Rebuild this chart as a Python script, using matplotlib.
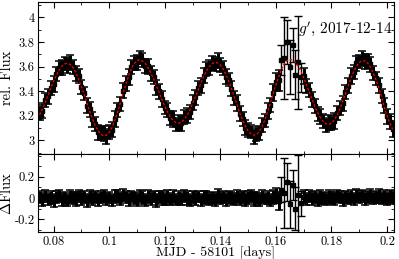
import matplotlib
matplotlib.use("Agg")
import matplotlib.pyplot as plt
import numpy as np
from matplotlib.ticker import MultipleLocator, FixedLocator, FuncFormatter

# times (MJD - 58101), one per 0.001 d
t_start = 0.075
model = [3.209, 3.256, 3.309, 3.367, 3.425, 3.480, 3.530, 3.572, 3.603, 3.622,
         3.627, 3.617, 3.592, 3.553, 3.501, 3.440, 3.374, 3.304, 3.237, 3.175,
         3.121, 3.079, 3.051, 3.038, 3.042, 3.065, 3.105, 3.161, 3.229, 3.303,
         3.381, 3.456, 3.525, 3.582, 3.624, 3.649, 3.655, 3.646, 3.625, 3.592,
         3.550, 3.501, 3.446, 3.389, 3.332, 3.279, 3.232, 3.192, 3.163, 3.145,
         3.140, 3.148, 3.170, 3.202, 3.246, 3.297, 3.353, 3.411, 3.467, 3.519,
         3.565, 3.600, 3.624, 3.634, 3.631, 3.614, 3.582, 3.537, 3.483, 3.422,
         3.356, 3.289, 3.225, 3.166, 3.117, 3.079, 3.054, 3.043, 3.049, 3.072,
         3.112, 3.166, 3.231, 3.303, 3.378, 3.451, 3.518, 3.576, 3.621, 3.649,
         3.660, 3.654, 3.635, 3.604, 3.562, 3.512, 3.454, 3.395, 3.336, 3.278,
         3.228, 3.186, 3.154, 3.136, 3.130, 3.140, 3.165, 3.205, 3.256, 3.316,
         3.380, 3.445, 3.507, 3.561, 3.604, 3.634, 3.649, 3.647, 3.629, 3.597,
         3.550, 3.494, 3.428, 3.359, 3.270, 3.200, 3.140, 3.090]

resid = [0.012, -0.015, 0.020, -0.008, 0.005, -0.022, 0.010, 0.018, -0.012, 0.003,
         -0.018, 0.014, 0.002, -0.010, 0.022, -0.005, 0.008, -0.020, 0.015, -0.003,
         0.010, -0.014, 0.006, 0.019, -0.009, 0.004, -0.017, 0.013, 0.021, -0.006,
         0.025, 0.008, -0.011, 0.016, 0.003, -0.013, 0.020, 0.007, -0.016, 0.011,
         -0.004, 0.015, -0.019, 0.009, 0.002, -0.012, 0.017, -0.007, 0.012, -0.015,
         0.006, -0.010, 0.018, 0.001, -0.016, 0.011, -0.003, 0.014, -0.020, 0.007,
         0.013, -0.008, 0.004, -0.014, 0.019, -0.002, 0.009, -0.018, 0.012, 0.000,
         -0.011, 0.016, -0.006, 0.010, -0.015, 0.005, 0.018, -0.009, 0.003, -0.013,
         0.014, -0.004, 0.008, -0.017, 0.011, 0.024, -0.030,
         0.080, 0.050, 0.150, -0.060, 0.120, -0.100, 0.030, -0.050,
         0.012, -0.009, 0.017, -0.003, 0.006, -0.014, 0.010, 0.002, -0.011, 0.015,
         0.004, -0.007, 0.019, 0.009, -0.012, 0.013, 0.001, 0.016, -0.005, 0.022,
         0.008, 0.018, -0.006, 0.014, 0.024, -0.002, 0.011, 0.020, 0.003, 0.015,
         -0.004, 0.012, 0.006]

err = [0.058, 0.062, 0.055, 0.060, 0.057, 0.064, 0.056, 0.059, 0.062, 0.055,
       0.058, 0.061, 0.056, 0.063, 0.057, 0.059, 0.055, 0.062, 0.058, 0.060,
       0.056, 0.064, 0.057, 0.059, 0.061, 0.055, 0.058, 0.062, 0.056, 0.060,
       0.057, 0.059, 0.063, 0.055, 0.058, 0.061, 0.056, 0.060, 0.057, 0.062,
       0.059, 0.055, 0.061, 0.058, 0.064, 0.056, 0.059, 0.057, 0.062, 0.055,
       0.060, 0.058, 0.056, 0.063, 0.057, 0.059, 0.061, 0.055, 0.058, 0.062,
       0.056, 0.060, 0.057, 0.059, 0.064, 0.055, 0.058, 0.061, 0.056, 0.060,
       0.057, 0.062, 0.059, 0.055, 0.061, 0.058, 0.056, 0.063, 0.057, 0.059,
       0.060, 0.056, 0.062, 0.058, 0.066, 0.072, 0.085,
       0.120, 0.330, 0.180, 0.220, 0.140, 0.200, 0.380, 0.120,
       0.062, 0.058, 0.056, 0.061, 0.057, 0.059, 0.063, 0.055, 0.058, 0.060,
       0.057, 0.062, 0.056, 0.059, 0.061, 0.055, 0.058, 0.064, 0.057, 0.060,
       0.056, 0.059, 0.062, 0.057, 0.061, 0.058, 0.055, 0.063, 0.057, 0.060,
       0.059, 0.062, 0.064]

mjd = t_start + 0.001 * np.arange(len(model))
model_arr = np.array(model)
resid_arr = np.array(resid)
err_arr = np.array(err)
flux = model_arr + resid_arr
noisy = err_arr > 0.1

plt.rcParams['font.family'] = 'serif'
plt.rcParams['font.serif'] = ['cmr10']
plt.rcParams['mathtext.fontset'] = 'cm'
plt.rcParams['axes.formatter.use_mathtext'] = True
plt.rcParams['font.size'] = 9

fig = plt.figure(figsize=(3.99, 2.59), dpi=100)
ax1 = fig.add_axes([0.0952, 0.4054, 0.8923, 0.5868])
ax2 = fig.add_axes([0.0952, 0.1042, 0.8923, 0.3012])

ebar = dict(fmt='s', ms=3.5, color='black', ecolor='black',
            elinewidth=2.2, capsize=2.6, capthick=1.1, zorder=2)
ebar_thin = dict(fmt='s', ms=3.0, color='black', ecolor='black',
                 elinewidth=1.0, capsize=2.6, capthick=1.0, zorder=2)

ax1.errorbar(mjd[~noisy], flux[~noisy], yerr=err_arr[~noisy], **ebar)
ax1.errorbar(mjd[noisy], flux[noisy], yerr=err_arr[noisy], **ebar_thin)
ax1.plot(mjd, model_arr, color='red', lw=0.9, ls=(0, (2, 1.5)), zorder=3)

ax2.errorbar(mjd[~noisy], resid_arr[~noisy], yerr=err_arr[~noisy], **ebar)
ax2.errorbar(mjd[noisy], resid_arr[noisy], yerr=err_arr[noisy], **ebar_thin)

fmt = FuncFormatter(lambda v, p: '%g' % round(v, 6))
for ax in (ax1, ax2):
    ax.set_xlim(0.0744, 0.2025)
    ax.xaxis.set_major_locator(MultipleLocator(0.02))
    ax.xaxis.set_minor_locator(MultipleLocator(0.01))
    ax.yaxis.set_minor_locator(MultipleLocator(0.1))
    ax.xaxis.set_major_formatter(fmt)
    ax.yaxis.set_major_formatter(fmt)
    ax.tick_params(which='both', direction='in', top=True, right=True,
                   labelsize=9, pad=2.5)
    ax.tick_params(which='major', length=4)
    ax.tick_params(which='minor', length=2)

ax1.set_ylim(2.89, 4.125)
ax1.yaxis.set_major_locator(FixedLocator([3.0, 3.2, 3.4, 3.6, 3.8, 4.0]))
ax2.set_ylim(-0.32, 0.415)
ax2.yaxis.set_major_locator(FixedLocator([-0.2, 0.0, 0.2]))
ax1.tick_params(labelbottom=False)

ax1.set_ylabel('rel. Flux', fontsize=10.5)
ax2.set_ylabel(r'$\Delta$Flux', fontsize=10.5)
ax2.set_xlabel('MJD - 58101 [days]', fontsize=10, labelpad=-0.5)
ax1.yaxis.set_label_coords(-0.068, 0.5)
ax2.yaxis.set_label_coords(-0.068, 0.5)

ax1.text(0.995, 0.82, r"$g'$, 2017-12-14", transform=ax1.transAxes,
         ha='right', va='center', fontsize=11)

fig.savefig('out.png', dpi=100)
